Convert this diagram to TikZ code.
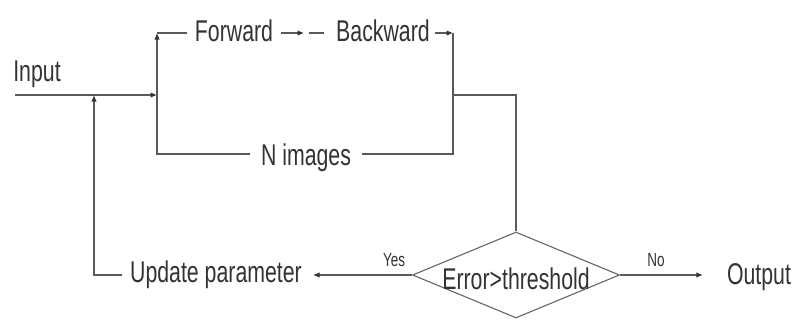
\documentclass[tikz,border=0pt]{standalone}
\usepackage{fontspec}
\setmainfont{Liberation Sans}[FakeStretch=0.71]
\usetikzlibrary{shapes.geometric,arrows.meta}
\begin{document}
\begin{tikzpicture}[x=1pt,y=-1pt,
    line/.style={draw=black!65, line width=1.1pt},
    tip/.style={line, -{Latex[length=6.5pt,width=5.5pt,color=black!80]}},
    lbl/.style={text=black!80, font=\fontsize{30}{32}\selectfont, inner xsep=8pt, inner ysep=2pt},
    tag/.style={text=black!80, font=\fontsize{19}{21}\selectfont, inner sep=1pt}]
    \useasboundingbox (0,0) rectangle (797,322);
    % text nodes
    \node[lbl] (input) at (37,74) {Input};
    \node[lbl] (fwd) at (234,31) {Forward};
    \node[lbl] (bwd) at (383,31) {Backward};
    \node[lbl, inner xsep=11pt] (nimg) at (306,158) {N images};
    \node[lbl] (update) at (216,275) {Update parameter};
    \node[lbl] (output) at (759,277) {Output};
    \node[draw=black!60, line width=1.1pt, shape=diamond, aspect=2.4, inner sep=0pt,
          minimum width=207pt, minimum height=86pt] (dec) at (516,275) {};
    \node[lbl, inner sep=0pt] (err) at (516,279) {Error>threshold};
    \node[tag] (yes) at (394,260) {Yes};
    \node[tag] (no) at (656,260) {No};
    % corners
    \coordinate (inL) at (15,95);
    \coordinate (split) at (157,95);
    \coordinate (fb) at (94,95);
    \coordinate (tl) at (157,33);
    \coordinate (bl) at (157,154);
    \coordinate (tr) at (453,33);
    \coordinate (br) at (453,154);
    \coordinate (join) at (453,95);
    \coordinate (jr) at (516,95);
    \coordinate (fwdTip) at (304,33);
    \coordinate (bwdIn) at (309,33);
    % connectors
    \draw[tip] (inL) -- (split);
    \draw[tip] (split) -- (tl);
    \draw[line] (tl) -- (tl -| fwd.west);
    \draw[tip] (fwdTip -| fwd.east) -- (fwdTip);
    \draw[line] (bwdIn) -- ([xshift=-4pt]bwdIn -| bwd.west);
    \draw[tip] ([xshift=-3pt]tr -| bwd.east) -- (tr);
    \draw[line] (tr) -- (br) -- (br -| nimg.east);
    \draw[line] (split) -- (bl) -- (bl -| nimg.west);
    \draw[line] (join) -- (jr) -- (dec.north);
    \draw[tip, shorten >=3pt] (dec.west) -- (dec.west -| update.east);
    \draw[tip, shorten >=16pt] (dec.east) -- (dec.east -| output.west);
    \draw[tip] (update.west) -| (fb);
\end{tikzpicture}
\end{document}
